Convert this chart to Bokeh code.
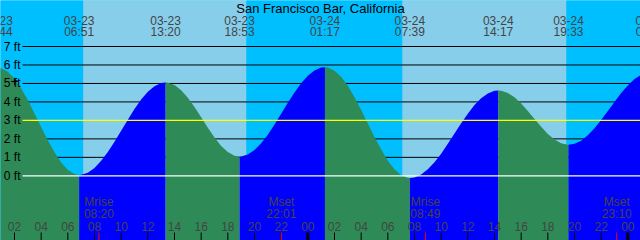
from bokeh.plotting import figure
from bokeh.models import Range1d, Label
from bokeh.embed import file_html
from bokeh.resources import INLINE

title = "San Francisco Bar, California"

# Tide extremes
event_dates = ["03-23", "03-23", "03-23", "03-23", "03-24", "03-24", "03-24", "03-24", "03-25"]
event_times = ["00:44", "06:51", "13:20", "18:53", "01:17", "07:39", "14:17", "19:33", "01:43"]
event_heights = [5.85, 0.05, 5.05, 1.04, 5.88, -0.12, 4.62, 1.68, 5.6]

# Tide height (ft) at every whole hour from 03-23 00:00 (hours 0..49)
hourly_heights = [5.65, 5.82, 5.26, 4.10, 2.64, 1.27, 0.32, 0.06, 0.43, 1.29,
                  2.44, 3.62, 4.55, 5.02, 4.91, 4.22, 3.17, 2.07, 1.29, 1.04,
                  1.40, 2.23, 3.36, 4.51, 5.42, 5.86, 5.69, 4.87, 3.56, 2.10,
                  0.81, 0.03, -0.09, 0.35, 1.20, 2.29, 3.36, 4.20, 4.60, 4.49,
                  3.91, 3.08, 2.27, 1.76, 1.73, 2.19, 3.02, 4.00, 4.89, 5.47]

# Tide height (ft) read at the half hours (00:30 .. 48:30)
halfhour_heights = [5.83, 5.63, 4.73, 3.38, 1.92, 0.72, 0.10, 0.17, 0.81, 1.84,
                    3.04, 4.13, 4.85, 5.04, 4.63, 3.72, 2.60, 1.62, 1.09, 1.15,
                    1.76, 2.78, 3.95, 5.01, 5.70, 5.86, 5.36, 4.26, 2.83, 1.42,
                    0.35, -0.11, 0.07, 0.73, 1.73, 2.84, 3.83, 4.46, 4.61, 4.25,
                    3.51, 2.65, 1.96, 1.68, 1.90, 2.57, 3.51, 4.48, 5.24]

# Sun
sun_dates = ["03-23", "03-23", "03-24", "03-24"]
sun_times = ["07:09", "19:24", "07:05", "19:24"]
sun_kinds = ["rise", "set", "rise", "set"]

# Moon
moon_names = ["Mrise", "Mset", "Mrise", "Mset"]
moon_dates = ["03-23", "03-23", "03-24", "03-24"]
moon_times = ["08:20", "22:01", "08:49", "23:10"]

levels = [0, 1, 2, 3, 4, 5, 6, 7]
level_labels = ["0 ft", "1 ft", "2 ft", "3 ft", "4 ft", "5 ft", "6 ft", "7 ft"]
hour_ticks = list(range(2, 49, 2))

# window
T0, T1 = 0.95, 48.95
Y0, Y1 = -3.50, 9.49
W, H = 640, 240
pxh = W / (T1 - T0)
pxf = H / (Y1 - Y0)

FONT = "Liberation Sans"
NIGHT = "#00BFFF"
DAY = "#87CEEB"
FALL = "#2E8B57"
RISE = "#0000FF"


def hours(d, t):
    day = int(d[3:]) - 23
    hh, mm = t.split(":")
    return day * 24 + int(hh) + int(mm) / 60.0


p = figure(width=W, height=H, x_range=Range1d(T0, T1), y_range=Range1d(Y0, Y1),
           output_backend="svg", toolbar_location=None, min_border=0,
           x_axis_location=None, y_axis_location=None)
p.grid.visible = False
p.outline_line_color = None
p.background_fill_color = NIGHT
p.border_fill_color = NIGHT

# sky bands
st = [hours(d, t) for d, t in zip(sun_dates, sun_times)]
edges = [T0 - 2] + st + [T1 + 2]
lefts, rights, cols = [], [], []
for i in range(len(edges) - 1):
    lefts.append(edges[i])
    rights.append(edges[i + 1])
    if i == 0:
        cols.append(NIGHT)
    else:
        cols.append(DAY if sun_kinds[i - 1] == "rise" else NIGHT)
p.quad(left=lefts, right=rights, bottom=Y0 - 1, top=Y1 + 1, fill_color=cols, line_color=None)

# grid lines (behind water)
xstart = T0 + 22 / pxh
for lv in levels:
    if lv in (0, 3):
        continue
    p.segment(x0=[xstart], y0=[lv], x1=[T1 + 1], y1=[lv], line_color="black", line_width=1)

# water fill
et = [hours(d, t) for d, t in zip(event_dates, event_times)]
pts = [(float(h), v) for h, v in enumerate(hourly_heights)]
pts += [(h + 0.5, v) for h, v in enumerate(halfhour_heights)]
pts += list(zip(et, event_heights))
pts.sort()
bounds = [pts[0][0]] + et + [pts[-1][0]]
for i in range(len(bounds) - 1):
    a, b = bounds[i], bounds[i + 1]
    seg = [q for q in pts if a <= q[0] <= b]
    if len(seg) < 2:
        continue
    falling = seg[0][1] > seg[-1][1]
    p.varea(x=[q[0] for q in seg], y1=Y0 - 1, y2=[q[1] for q in seg],
            fill_color=FALL if falling else RISE)

# datum lines over water
p.segment(x0=[xstart], y0=[3], x1=[T1 + 1], y1=[3], line_color="#FFFF00", line_width=1.2)
p.segment(x0=[xstart], y0=[0], x1=[T1 + 1], y1=[0], line_color="white", line_width=1.2)

# y labels
for lv, lab in zip(levels, level_labels):
    p.add_layout(Label(x=20, x_units="screen", y=lv, text=lab, text_align="right",
                       text_baseline="middle", text_font=FONT, text_font_size="12px",
                       text_color="black"))

# title
p.add_layout(Label(x=W / 2, x_units="screen", y=H - 7.5, y_units="screen", text=title,
                   text_align="center", text_baseline="middle", text_font=FONT,
                   text_font_size="13px", text_color="black"))

# event labels top
for t, d, tm in zip(et, event_dates, event_times):
    p.add_layout(Label(x=t, y=H - 19.5, y_units="screen", text=d, text_align="center",
                       text_baseline="middle", text_font=FONT, text_font_size="12px"))
    p.add_layout(Label(x=t, y=H - 31.8, y_units="screen", text=tm, text_align="center",
                       text_baseline="middle", text_font=FONT, text_font_size="12px"))

# moon labels and red ticks
tick_len = 8 / pxf
mt = [hours(d, t) for d, t in zip(moon_dates, moon_times)]
for t, n, tm in zip(mt, moon_names, moon_times):
    p.add_layout(Label(x=t, y=H - 201.8, y_units="screen", text=n, text_align="center",
                       text_baseline="middle", text_font=FONT, text_font_size="12px"))
    p.add_layout(Label(x=t, y=H - 213.5, y_units="screen", text=tm, text_align="center",
                       text_baseline="middle", text_font=FONT, text_font_size="12px"))

# hour labels and ticks
for h in hour_ticks:
    p.add_layout(Label(x=h, y=H - 225.8, y_units="screen", text="%02d" % (h % 24),
                       text_align="center", text_baseline="middle", text_font=FONT,
                       text_font_size="12px"))
thin = [h for h in hour_ticks if h % 24 != 0]
thick = [h for h in hour_ticks if h % 24 == 0]
p.segment(x0=thin, y0=Y0 - 1, x1=thin, y1=Y0 + tick_len, line_color="black", line_width=1)
p.segment(x0=thick, y0=Y0 - 1, x1=thick, y1=Y0 + tick_len, line_color="black", line_width=3)
p.segment(x0=mt, y0=Y0 - 1, x1=mt, y1=Y0 + tick_len, line_color="red", line_width=1)

# small cross marker near the 5 ft label
p.add_layout(Label(x=14, x_units="screen", y=H - 80, y_units="screen", text="+",
                   text_align="center", text_baseline="middle", text_font=FONT,
                   text_font_size="14px", text_color="black"))

open("out.html", "w").write(file_html(p, INLINE))
